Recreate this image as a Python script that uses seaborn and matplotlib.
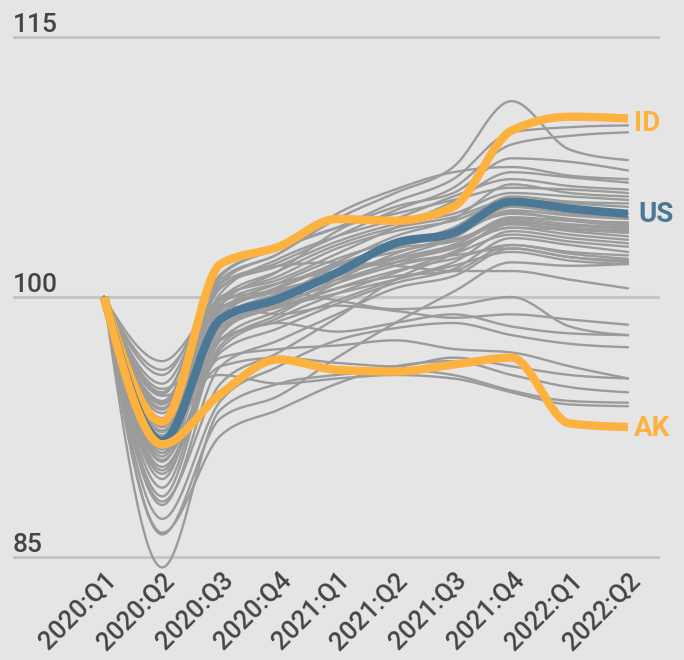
import numpy as np
import pandas as pd
import matplotlib
matplotlib.use("Agg")
import matplotlib.pyplot as plt
import seaborn as sns

quarters = ["2020:Q1", "2020:Q2", "2020:Q3", "2020:Q4", "2021:Q1",
            "2021:Q2", "2021:Q3", "2021:Q4", "2022:Q1", "2022:Q2"]

gray_series = [
    [100, 94.5, 101.2, 102.8, 104.0, 105.5, 106.8, 109.5, 109.8, 109.9],
    [100, 93.0, 100.5, 102.0, 103.5, 105.0, 106.3, 108.8, 109.3, 109.5],
    [100, 93.5, 100.8, 102.5, 104.5, 106.0, 107.5, 111.3, 108.5, 107.9],
    [100, 92.0, 99.5, 101.5, 103.8, 105.2, 106.0, 108.0, 107.8, 107.3],
    [100, 95.0, 101.0, 102.5, 104.8, 106.2, 107.2, 107.5, 107.0, 106.8],
    [100, 92.5, 100.0, 101.0, 102.5, 104.0, 105.5, 107.2, 106.9, 106.6],
    [100, 93.8, 100.2, 102.2, 103.5, 104.5, 105.8, 106.8, 106.4, 106.2],
    [100, 94.4, 101.3, 102.8, 104.0, 104.8, 105.6, 106.3, 106.2, 106.0],
    [100, 91.0, 99.0, 100.5, 102.0, 103.5, 104.5, 106.5, 106.0, 105.8],
    [100, 94.0, 100.6, 101.8, 103.2, 104.2, 104.8, 106.0, 105.8, 105.6],
    [100, 90.5, 98.5, 100.0, 101.8, 103.0, 104.0, 105.8, 105.5, 105.4],
    [100, 92.3, 99.9, 101.5, 103.0, 104.0, 104.6, 105.6, 105.4, 105.2],
    [100, 92.8, 99.8, 101.2, 102.8, 103.8, 104.4, 105.5, 105.1, 104.8],
    [100, 92.6, 98.6, 99.8, 101.4, 102.3, 103.4, 105.2, 104.8, 104.6],
    [100, 89.5, 98.0, 99.5, 101.0, 102.5, 103.5, 105.0, 104.7, 104.5],
    [100, 91.5, 99.3, 100.3, 101.0, 102.0, 103.0, 104.6, 104.4, 104.3],
    [100, 93.3, 99.2, 100.8, 102.2, 103.2, 103.8, 104.8, 104.5, 104.2],
    [100, 91.6, 98.9, 100.6, 101.9, 102.9, 103.6, 104.9, 104.4, 104.1],
    [100, 91.8, 98.8, 100.2, 101.5, 102.8, 103.2, 104.5, 104.2, 104.0],
    [100, 88.2, 95.0, 96.8, 98.8, 101.0, 102.5, 104.3, 104.1, 104.0],
    [100, 93.9, 99.4, 100.4, 101.3, 102.2, 102.9, 104.0, 103.9, 103.9],
    [100, 90.0, 97.8, 99.8, 101.2, 102.2, 103.0, 104.4, 104.0, 103.8],
    [100, 90.2, 97.0, 98.8, 100.2, 101.4, 102.6, 104.2, 103.9, 103.7],
    [100, 92.2, 99.0, 100.5, 101.8, 102.6, 103.3, 104.2, 103.8, 103.5],
    [100, 88.5, 97.2, 99.0, 100.8, 102.0, 102.8, 104.0, 103.6, 103.3],
    [100, 91.0, 97.6, 98.6, 99.8, 101.0, 102.0, 103.8, 103.4, 103.1],
    [100, 91.2, 98.3, 99.6, 100.8, 101.8, 102.5, 103.6, 103.2, 102.9],
    [100, 89.8, 96.8, 98.2, 99.6, 100.8, 101.6, 103.4, 103.0, 102.6],
    [100, 93.0, 99.0, 99.5, 100.5, 101.2, 101.5, 103.0, 102.6, 102.4],
    [100, 89.0, 97.5, 99.2, 100.5, 101.5, 102.2, 103.0, 102.5, 102.2],
    [100, 88.0, 96.0, 97.5, 99.0, 100.5, 101.2, 102.8, 102.3, 102.1],
    [100, 93.6, 99.6, 100.8, 101.5, 102.0, 102.4, 102.8, 102.3, 102.0],
    [100, 90.8, 98.2, 99.4, 100.2, 101.0, 101.8, 102.6, 102.1, 101.9],
    [100, 86.3, 93.0, 94.3, 96.5, 98.5, 100.3, 102.0, 101.8, 101.9],
    [100, 95.5, 100.8, 101.8, 102.0, 101.8, 101.5, 101.5, 101.0, 100.5],
    [100, 96.3, 99.5, 99.0, 99.5, 99.2, 98.8, 99.0, 98.7, 98.4],
    [100, 95.8, 99.8, 100.3, 99.8, 99.3, 99.5, 100.0, 98.3, 97.8],
    [100, 94.7, 97.5, 98.5, 98.0, 98.5, 99.0, 98.3, 97.9, 97.8],
    [100, 87.2, 94.0, 96.0, 97.5, 98.2, 98.5, 97.8, 97.3, 97.1],
    [100, 92.0, 96.0, 96.5, 96.2, 96.0, 96.5, 96.0, 95.5, 95.3],
    [100, 90.6, 96.5, 97.0, 97.2, 97.5, 97.0, 96.8, 96.0, 95.3],
    [100, 86.4, 92.0, 93.5, 95.0, 96.0, 96.3, 95.5, 94.8, 94.5],
    [100, 84.4, 93.5, 95.0, 95.5, 95.8, 95.5, 94.6, 94.0, 93.9],
    [100, 94.3, 95.5, 95.0, 95.3, 95.5, 95.3, 94.5, 93.8, 93.7],
]

id_values = [100, 92.8, 101.9, 102.9, 104.5, 104.4, 105.2, 109.6, 110.4, 110.3]
us_values = [100, 91.7, 98.7, 99.9, 101.4, 103.1, 103.7, 105.5, 105.1, 104.8]
ak_values = [100, 91.5, 94.4, 96.4, 95.8, 95.7, 96.1, 96.5, 92.7, 92.5]

y_ticks = [85, 100, 115]

BG = "#e5e5e5"
GRAY = "#9b9b9b"
ORANGE = "#fdb23f"
BLUE = "#4a7896"
TEXT = "#454545"


def monotone_curve(values, n=40):
    """Monotone cubic (d3.curveMonotoneX-style) rendering of a series."""
    y = np.asarray(values, float)
    N = len(y)
    s = np.diff(y)
    t = np.zeros(N)
    sgn = lambda v: -1.0 if v < 0 else 1.0
    for i in range(1, N - 1):
        s0, s1 = s[i - 1], s[i]
        p = (s0 + s1) / 2
        t[i] = (sgn(s0) + sgn(s1)) * min(abs(s0), abs(s1), 0.5 * abs(p))
    t[0] = (3 * s[0] - t[1]) / 2
    t[-1] = (3 * s[-1] - t[-2]) / 2
    xs, ys = [], []
    u = np.linspace(0, 1, n, endpoint=False)
    for i in range(N - 1):
        h00 = 2 * u**3 - 3 * u**2 + 1
        h10 = u**3 - 2 * u**2 + u
        h01 = -2 * u**3 + 3 * u**2
        h11 = u**3 - u**2
        xs.append(i + u)
        ys.append(h00 * y[i] + h10 * t[i] + h01 * y[i + 1] + h11 * t[i + 1])
    xs.append(np.array([N - 1.0]))
    ys.append(np.array([y[-1]]))
    return np.concatenate(xs), np.concatenate(ys)


def to_frame(series_dict):
    rows = []
    for name, vals in series_dict.items():
        cx, cy = monotone_curve(vals)
        rows.append(pd.DataFrame({"state": name, "x": cx, "y": cy}))
    return pd.concat(rows, ignore_index=True)


sns.set_theme(style="white")
plt.rcParams["font.family"] = ["Roboto", "DejaVu Sans"]

fig = plt.figure(figsize=(6.84, 6.60), dpi=100, facecolor=BG)
ax = fig.add_axes([13 / 684, 77 / 660, 647 / 684, 572 / 660])
ax.set_facecolor(BG)

for v in y_ticks:
    ax.axhline(v, color="#c5c5c5", lw=2.2, zorder=0)

gray_df = to_frame({f"S{i:02d}": v for i, v in enumerate(gray_series)})
sns.lineplot(data=gray_df, x="x", y="y", units="state", estimator=None,
             color=GRAY, lw=1.7, ax=ax, sort=False, zorder=2)

for vals, col, z in [(id_values, ORANGE, 3), (us_values, BLUE, 4), (ak_values, ORANGE, 5)]:
    df = to_frame({"s": vals})
    sns.lineplot(data=df, x="x", y="y", color=col, lw=6.0, ax=ax, sort=False,
                 zorder=z, solid_capstyle="butt")

ax.set_xlim(-1.563, 9.55)
ax.set_ylim(83.5, 116.5)
sns.despine(ax=ax, left=True, bottom=True)
ax.set_xlabel("")
ax.set_ylabel("")
ax.set_yticks([])
ax.set_xticks(range(len(quarters)))
ax.set_xticklabels(quarters, rotation=45, ha="right", va="top",
                   rotation_mode="anchor", fontsize=18.5, color=TEXT,
                   fontweight="medium")
ax.tick_params(axis="x", length=0, pad=-11)

for v in y_ticks:
    ax.text(-1.563, v + 0.3, str(v), ha="left", va="baseline",
            fontsize=19, color=TEXT, fontweight="medium")

ax.text(9.1, id_values[-1] - 0.3, "ID", ha="left", va="center",
        fontsize=20, fontweight="bold", color=ORANGE)
ax.text(9.17, us_values[-1] - 0.05, "US", ha="left", va="center",
        fontsize=20, fontweight="bold", color=BLUE)
ax.text(9.1, ak_values[-1] - 0.1, "AK", ha="left", va="center",
        fontsize=20, fontweight="bold", color=ORANGE)

fig.savefig("out.png", dpi=100, facecolor=BG)
